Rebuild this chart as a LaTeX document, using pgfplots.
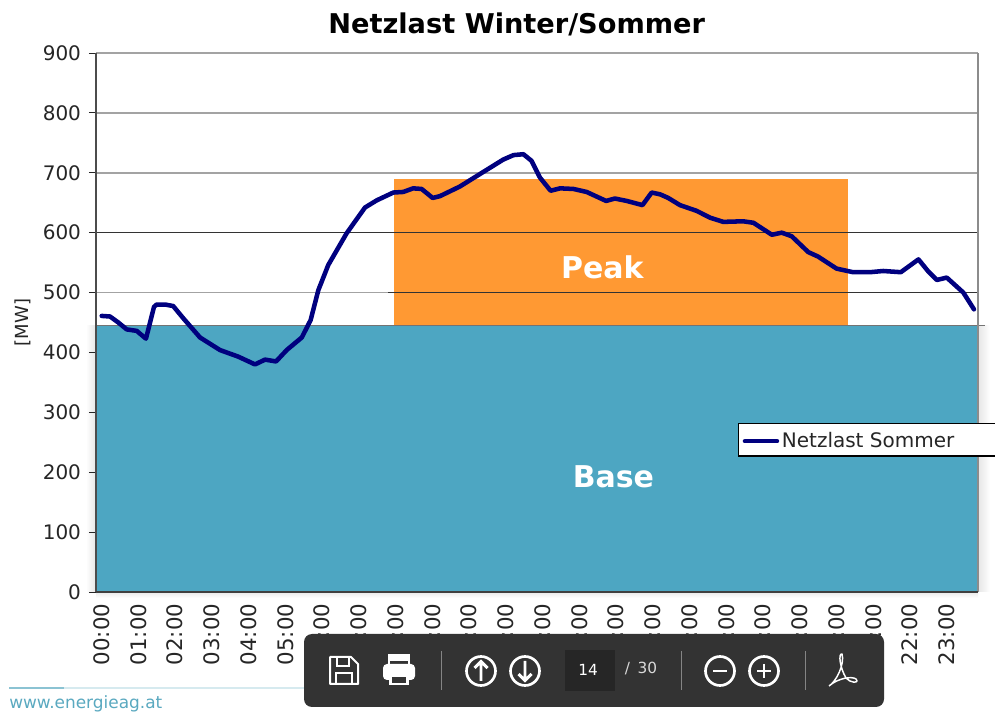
\documentclass[border=0pt]{standalone}
\usepackage{pgfplots}
\pgfplotsset{compat=1.18}
\usepackage{fontspec}
\setmainfont{DejaVu Sans}
\definecolor{basec}{HTML}{4DA6C2}
\definecolor{peakc}{HTML}{FF9933}
\definecolor{navyc}{HTML}{00007F}
\definecolor{gridg}{HTML}{A3A3A3}
\definecolor{txt}{HTML}{262626}
\definecolor{bar}{HTML}{333333}
\definecolor{foot}{HTML}{5AA9C0}
\begin{document}
\begin{tikzpicture}
\path[use as bounding box,clip] (0,0) rectangle (746.25pt,534.75pt);
\fill[white] (0,0) rectangle (746.25pt,534.75pt);
\begin{scope}[x=.75pt,y=-.75pt,yshift=534.75pt]
\shade[left color=white,right color=black!10] (86,326) rectangle (96,592);
\shade[left color=black!10,right color=white] (978,326) rectangle (990,592);
\shade[top color=black!8,bottom color=white] (96,592) rectangle (978,598);
\end{scope}
\begin{axis}[
  at={(72pt,90.75pt)},anchor=south west,
  scale only axis,width=661.5pt,height=404.25pt,
  xmin=0,xmax=24,ymin=0,ymax=900,
  clip=false,
  axis line style={draw=none},
  title={\bfseries Netzlast Winter/Sommer},
  title style={at={(0.477,1)},anchor=base,yshift=8.8pt,font=\fontsize{20.4}{24}\selectfont,text=black},
  ylabel={[MW]},
  ylabel style={at={(axis description cs:0,0.5)},anchor=center,yshift=55pt,font=\fontsize{13.5}{15}\selectfont,text=txt},
  ytick={0,100,...,900},
  xtick={0.15,1.15,...,23.15},
  xticklabels={00:00,01:00,02:00,03:00,04:00,05:00,06:00,07:00,08:00,09:00,10:00,11:00,12:00,13:00,14:00,15:00,16:00,17:00,18:00,19:00,20:00,21:00,22:00,23:00},
  x tick label style={rotate=90,anchor=east,font=\fontsize{16}{18}\selectfont,text=txt,yshift=0pt,xshift=0pt},
  y tick label style={font=\fontsize{15}{16}\selectfont,text=txt,xshift=-2.5pt},
  /pgf/number format/assume math mode=true,
  tick align=outside,
  major tick length=5.25pt,
  x tick style={draw=none},
  y tick style={draw=txt,line width=.6pt},
  xtick pos=bottom,ytick pos=left,
  legend style={at={(0.728,0.3135)},anchor=north west,draw=black,fill=white,line width=.9pt,
    font=\fontsize{15}{18}\selectfont,text=txt,inner xsep=3pt,inner ysep=4.2pt,cells={anchor=west}},
  legend cell align=left,
  legend image code/.code={\draw[#1] (0pt,-1pt) -- (24pt,-1pt);},
]
% grid lines, under the areas
\addplot[gridg,line width=1.4pt,forget plot] coordinates {(0,900)(24,900)};
\addplot[gridg,line width=1.4pt,forget plot] coordinates {(0,800)(24,800)};
\addplot[gridg,line width=1.4pt,forget plot] coordinates {(0,700)(24,700)};
\addplot[gridg,line width=1.4pt,forget plot] coordinates {(0,500)(24,500)};
% peak and base
\addplot[fill=peakc,draw=none,forget plot] coordinates {(8.1,445)(8.1,689)(20.46,689)(20.46,445)} --cycle;
\addplot[fill=basec,draw=none,forget plot] coordinates {(0,0)(0,445)(24,445)(24,0)} --cycle;
\addplot[black!80,line width=.7pt,forget plot] coordinates {(7.95,500)(24,500)};
\addplot[black!80,line width=.7pt,forget plot] coordinates {(0,600)(24,600)};
\addplot[black!55,line width=1pt,forget plot] coordinates {(0,445)(24.2,445)};
% frame
\addplot[black!70,line width=.8pt,forget plot] coordinates {(0,0)(0,900)};
\addplot[black!45,line width=1pt,forget plot] coordinates {(24,0)(24,900)};
\addplot[black!75,line width=1pt,forget plot] coordinates {(0,0)(24,0)};
% the load curve
\addplot[navyc,line width=3.4pt,line join=round,line cap=round] coordinates {
(0.155,461)(0.381,460)(0.607,450)(0.835,438.5)(1.107,436)(1.36,423)(1.578,476)(1.65,480)(1.878,480)(2.10,477.5)
(2.376,457)(2.83,425)(3.374,404)(3.87,393)(4.327,380)(4.6,388)(4.9,385)(5.19,404)(5.6,425)(5.84,454)
(6.05,504)(6.32,546)(6.82,599)(7.32,642)(7.64,654)(8.09,667)(8.36,668)(8.63,674)(8.86,673)(9.16,658)
(9.36,661)(9.9,677)(10.45,698)(11.08,722)(11.36,729.5)(11.63,731)(11.85,720)(12.08,692)(12.37,670)(12.63,674)
(12.99,673)(13.35,668)(13.88,653)(14.12,657)(14.44,653)(14.87,646)(15.12,667)(15.35,664)(15.57,658)(15.89,646)
(16.34,636.5)(16.71,625)(17.07,618)(17.61,619)(17.89,616.5)(18.39,596.5)(18.66,600)(18.93,594)(19.38,567.6)(19.65,560)
(20.15,540)(20.6,534)(21.06,534)(21.42,536)(21.9,534)(22.38,555.4)(22.65,535)(22.88,521)(23.15,525)(23.6,500)(23.89,472)};
\addlegendentry{\raisebox{-1pt}{Netzlast Sommer}\rule{40pt}{0pt}}
\node[text=white,font=\fontsize{22.5}{26}\selectfont\bfseries] at (axis cs:13.78,542) {Peak};
\node[text=white,font=\fontsize{22.5}{26}\selectfont\bfseries] at (axis cs:14.08,193) {Base};
\end{axis}
\begin{scope}[x=.75pt,y=-.75pt,yshift=534.75pt]
% footer
\draw[foot!25,line width=1pt] (9,688) -- (310,688);
\draw[foot!70,line width=1pt] (9,688) -- (64,688);
\node[anchor=west,inner sep=0pt,text=foot,font=\fontsize{12.7}{15}\selectfont] at (9,704) {www.energieag.at};
% viewer toolbar
\fill[bar,rounded corners=6pt] (304,634) rectangle (884,707);
\fill[black!85] (565,650) rectangle (615,691);
\node[text=white,font=\fontsize{11.5}{14}\selectfont] at (588,670) {14};
\node[text=white!85!black,font=\fontsize{11.5}{14}\selectfont] at (641,669) {/ \,30};
\foreach \x in {441,681,805} \draw[white!40!bar,line width=.6pt] (\x,651) -- (\x,690);
\begin{scope}[white,line width=1.5pt]
% save
\draw[line join=round] (330,657) -- (351,657) -- (358,664) -- (358,684) -- (330,684) -- cycle;
\draw (337,657) -- (337,666) -- (349,666) -- (349,657);
\draw (336,684) -- (336,673) -- (352,673) -- (352,684);
% print
\fill[rounded corners=3pt] (383,664) rectangle (415,680);
\draw (389,664) -- (389,655) -- (409,655) -- (409,664);
\fill (389,655) rectangle (409,661);
\fill[white] (389,675) rectangle (409,685);
\fill[bar] (392,677) rectangle (406,683);
% arrows
\foreach \x in {481,525,720,764} \draw[line width=2pt] (\x,671) circle (14.5);
\draw[line width=2.2pt] (481,681) -- (481,662) (474.5,668) -- (481,661.5) -- (487.5,668);
\draw[line width=2.2pt] (525,661) -- (525,680) (518.5,674) -- (525,680.5) -- (531.5,674);
\draw[line width=2.2pt] (713,671) -- (727,671);
\draw[line width=2.2pt] (757,671) -- (771,671) (764,664) -- (764,678);
% pdf glyph
\draw[line width=1.1pt,line join=round] (829,686) .. controls (836,682) and (845,664) .. (842,654) .. controls (838,653) and (840,668) .. (846,678) .. controls (850,683) and (860,684) .. (856,679) .. controls (852,676) and (838,678) .. (829,686);
\end{scope}
\end{scope}
\end{tikzpicture}
\end{document}
